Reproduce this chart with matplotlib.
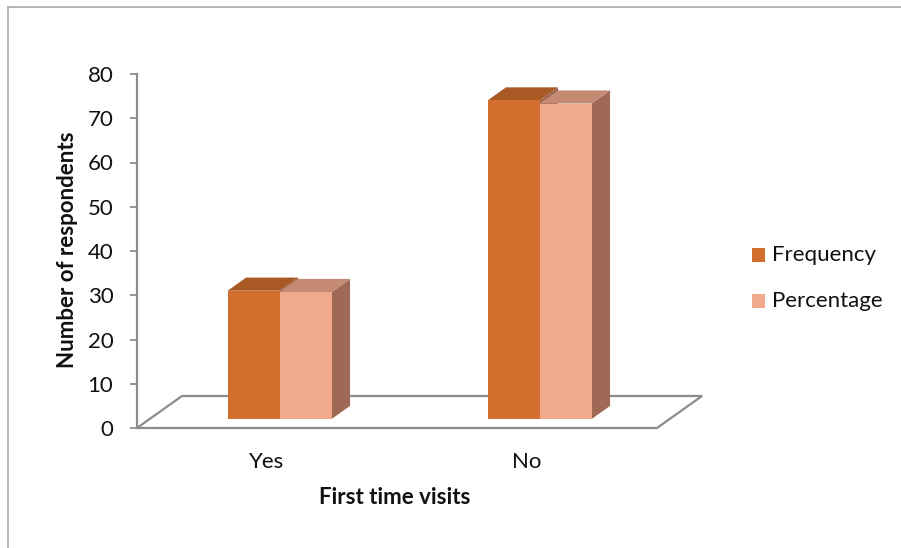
import matplotlib
matplotlib.use("Agg")
import matplotlib.pyplot as plt
from matplotlib.patches import Polygon, Rectangle

# Data
categories = ["Yes", "No"]
frequency = [29, 72]
percentage = [28.7, 71.3]
series_names = ["Frequency", "Percentage"]
y_ticks = [0, 10, 20, 30, 40, 50, 60, 70, 80]

# Colours (front, top, side) for each series
FREQ = ("#D36F2E", "#A95A24", "#9C6550")
PCT = ("#F0A98A", "#C48A74", "#9E6A55")
AXIS_GREY = "#8C8C8C"
TEXT = "#111111"
FS = 16

W, H, DPI = 901, 548, 100
fig = plt.figure(figsize=(W / DPI, H / DPI), dpi=DPI)
plt.rcParams["font.family"] = ["Lato", "DejaVu Sans"]

# Plot area: x=-0.5 at px 137, one category = 260 px; y 0..80 spans px 428..74
ax_left, ax_right, ax_bottom, ax_top = 137, 722, 428, 74
ax = fig.add_axes([ax_left / W, 1 - ax_bottom / H,
                   (ax_right - ax_left) / W, (ax_bottom - ax_top) / H])
ax.set_xlim(-0.5, 1.75)
ax.set_ylim(0, 80)
ax.patch.set_alpha(0)

# Oblique depth vector of the floor (in data units)
DEPTH_DX = 45 / 260
DEPTH_DY = 32 / 4.425

# Floor parallelogram
floor = Polygon([(-0.5, 0), (1.5, 0), (1.5 + DEPTH_DX, DEPTH_DY), (-0.5 + DEPTH_DX, DEPTH_DY)],
                closed=True, facecolor="white", edgecolor=AXIS_GREY, lw=1.6, clip_on=False, zorder=1)
ax.add_patch(floor)

# Bars sit in the middle band of the floor depth
d0, d1 = 0.28, 0.69
bar_w = 0.2


def draw_bar(x0, value, colors, z):
    front, top, side = colors
    bx = x0 + d0 * DEPTH_DX
    by = d0 * DEPTH_DY
    ddx = (d1 - d0) * DEPTH_DX
    ddy = (d1 - d0) * DEPTH_DY
    h = by + value
    ax.add_patch(Polygon([(bx + bar_w, by), (bx + bar_w + ddx, by + ddy),
                          (bx + bar_w + ddx, h + ddy), (bx + bar_w, h)],
                         closed=True, facecolor=side, edgecolor="none", clip_on=False, zorder=z))
    ax.add_patch(Polygon([(bx, h), (bx + bar_w, h), (bx + bar_w + ddx, h + ddy), (bx + ddx, h + ddy)],
                         closed=True, facecolor=top, edgecolor="none", clip_on=False, zorder=z))
    ax.add_patch(Rectangle((bx, by), bar_w, value, facecolor=front, edgecolor="none",
                           clip_on=False, zorder=z + 0.1))


for i, cat in enumerate(categories):
    draw_bar(i - bar_w, frequency[i], FREQ, 2 + i)
    draw_bar(i, percentage[i], PCT, 2.5 + i)

# Axes styling
for name in ("top", "right", "bottom"):
    ax.spines[name].set_visible(False)
ax.spines["left"].set_color(AXIS_GREY)
ax.spines["left"].set_linewidth(1.6)
ax.set_yticks(y_ticks)
ax.set_yticklabels([str(t) for t in y_ticks])
ax.tick_params(axis="y", colors=AXIS_GREY, length=5, width=1.3, pad=12, labelsize=FS,
               labelcolor=TEXT)
ax.set_xticks(range(len(categories)))
ax.set_xticklabels(categories)
ax.tick_params(axis="x", length=0, pad=17, labelsize=FS, labelcolor=TEXT)

ax.set_ylabel("Number of respondents", fontsize=FS, fontweight="bold", color=TEXT)
ax.yaxis.set_label_coords((67 - ax_left) / (ax_right - ax_left), (ax_bottom - 250) / (ax_bottom - ax_top))
ax.yaxis.label.set_va("center")
ax.set_xlabel("First time visits", fontsize=FS, fontweight="bold", color=TEXT)
ax.xaxis.set_label_coords((395 - ax_left) / (ax_right - ax_left), (ax_bottom - 497) / (ax_bottom - ax_top))
ax.xaxis.label.set_va("center")

# Legend
for name, col, yc in zip(series_names, (FREQ[0], PCT[0]), (255, 301)):
    fig.add_artist(Rectangle((752 / W, 1 - (yc + 7) / H), 13 / W, 14 / H,
                             transform=fig.transFigure, facecolor=col, edgecolor="none"))
    fig.text(772 / W, 1 - yc / H, name, fontsize=FS, va="center", ha="left", color=TEXT)

# Chart frame
fig.add_artist(Rectangle((8 / W, -0.1), 1.2, 1 - 7 / H + 0.1, transform=fig.transFigure,
                         facecolor="none", edgecolor="#B4B4B4", lw=1.4))

fig.savefig("out.png", dpi=DPI)
